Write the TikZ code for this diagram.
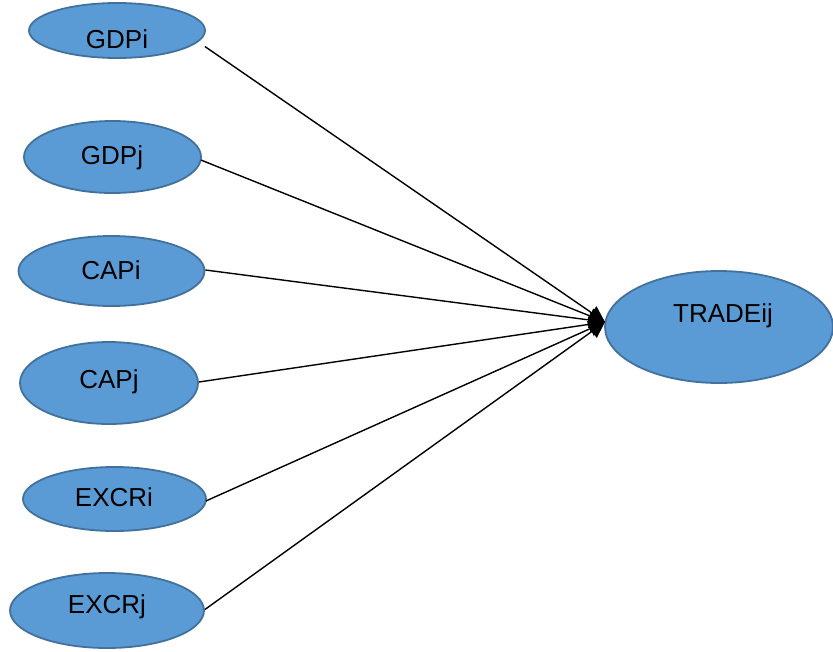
\documentclass[tikz,border=0pt]{standalone}
\usepackage{fontspec}
\setmainfont{Liberation Sans}
\usetikzlibrary{shapes.geometric,arrows.meta}
\definecolor{varfill}{HTML}{5B9BD5}
\definecolor{varline}{HTML}{41719C}
\tikzset{
  var/.style={ellipse, draw=varline, line width=1.8pt, fill=varfill, inner sep=0pt},
  lbl/.style={font=\fontsize{26}{26}\selectfont, text=black, inner sep=0pt},
  link/.style={line width=1.4pt, -{Triangle[length=16pt,width=16pt]}}
}
\begin{document}
\begin{tikzpicture}[x=1pt,y=-1pt]
\useasboundingbox (0,0) rectangle (833,651);
% predictor variables on the left
\node[var, minimum width=176pt, minimum height=55pt] (gdpi) at (117,30.5) {};
\node[var, minimum width=177pt, minimum height=72pt] (gdpj) at (112.5,157) {};
\node[var, minimum width=186pt, minimum height=70pt] (capi) at (111.5,271) {};
\node[var, minimum width=178pt, minimum height=82pt] (capj) at (109,383) {};
\node[var, minimum width=183pt, minimum height=64pt] (excri) at (114.5,499) {};
\node[var, minimum width=194pt, minimum height=75pt] (excrj) at (107,610.5) {};
% dependent variable
\node[var, minimum width=228pt, minimum height=112pt] (trade) at (719,327) {};
% labels
\node[lbl] (tgdpi) at (117,39) {GDPi};
\node[lbl] (tgdpj) at (112,158) {GDPj};
\node[lbl] (tcapi) at (111,270) {CAPi};
\node[lbl] (tcapj) at (109,382) {CAPj};
\node[lbl] (texcri) at (114,497) {EXCRi};
\node[lbl] (texcrj) at (107,607) {EXCRj};
\node[lbl] (ttrade) at (723,316) {TRADEij};
% common arrow target
\coordinate (hub) at (605,322);
\draw[link] (gdpi.east) ++(-1,16) coordinate (s1) -- (hub);
\draw[link] (gdpj.east) ++(-1,3) coordinate (s2) -- (hub);
\draw[link] (capi.east) ++(0,-1) coordinate (s3) -- (hub);
\draw[link] (capj.east) ++(0,-1) coordinate (s4) -- (hub);
\draw[link] (excri.east) ++(-1,2) coordinate (s5) -- (hub);
\draw[link] (excrj.east) ++(0,-1) coordinate (s6) -- (hub);
\end{tikzpicture}
\end{document}
